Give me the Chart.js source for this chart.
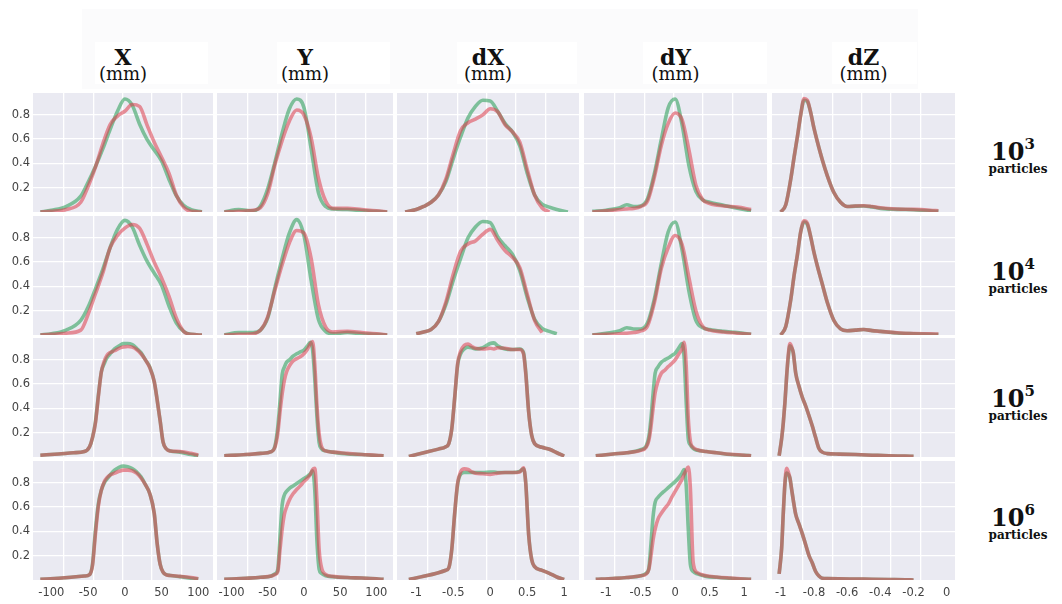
<!DOCTYPE html>
<html>
<head>
<meta charset="utf-8">
<script src="https://cdn.jsdelivr.net/npm/chart.js@4.4.1/dist/chart.umd.min.js"></script>
<style>
    body { margin: 0; background: #fff; }
    #figura { position: relative; width: 1062px; height: 604px; overflow: hidden; background: #fff; }
    #figura canvas { position: absolute; }
    .fundo { position: absolute; left: 82px; top: 9px; width: 836px; height: 80px; background: #fbfbfc; }
    .caixa { position: absolute; top: 42px; height: 42px; background: #fff; }
    .cab { position: absolute; width: 140px; text-align: center; font-family: 'DejaVu Serif', serif; color: #111; white-space: nowrap; }
    .cab.nome { top: 46px; font-size: 22px; line-height: 22px; font-weight: bold; }
    .cab.unid { top: 65px; font-size: 18px; line-height: 18px; }
    .rotulo { position: absolute; left: 978px; width: 80px; text-align: center; font-family: 'DejaVu Serif', serif; font-weight: bold; color: #111; white-space: nowrap; }
    .rotulo.pot { font-size: 24px; line-height: 24px; padding-right: 10px; box-sizing: border-box; }
    .rotulo.pot sup { font-size: 15px; line-height: 0; position: relative; top: -2px; }
    .rotulo.part { font-size: 12px; line-height: 12px; }
</style>
</head>
<body>
<div id="figura">
    <div class="fundo"></div>
</div>

<script>
// Cabeçalhos das colunas e das linhas
const colunas = ['X', 'Y', 'dX', 'dY', 'dZ'];
const potencias = ['3', '4', '5', '6'];

// Marcas dos eixos (rótulos)
const marcasX = [-100, -50, 0, 50, 100];
const marcasY = [-100, -50, 0, 50, 100];
const marcasDX = [-1, -0.5, 0, 0.5, 1];
const marcasDY = [-1, -0.5, 0, 0.5, 1];
const marcasDZ = [-1, -0.8, -0.6, -0.4, -0.2, 0];
const marcasDensidade = [0.2, 0.4, 0.6, 0.8];

// ---------- X (mm) ----------
const gradeX = [-115, -100, -80, -60, -50, -40, -30, -20, -10, 0, 10, 20, 30, 40, 50, 60, 70, 80, 90, 105];
const vermelhoX3 = [0, 0.005, 0.02, 0.08, 0.21, 0.37, 0.56, 0.72, 0.79, 0.83, 0.885, 0.87, 0.72, 0.575, 0.45, 0.32, 0.14, 0.04, 0.005, 0];
const verdeX3 = [0, 0.015, 0.045, 0.13, 0.245, 0.375, 0.52, 0.68, 0.83, 0.93, 0.88, 0.725, 0.60, 0.51, 0.42, 0.27, 0.135, 0.055, 0.02, 0];
const vermelhoX4 = [0, 0.005, 0.015, 0.04, 0.17, 0.34, 0.51, 0.72, 0.82, 0.88, 0.91, 0.88, 0.75, 0.60, 0.47, 0.32, 0.14, 0.03, 0.005, 0];
const verdeX4 = [0, 0.01, 0.04, 0.12, 0.23, 0.38, 0.54, 0.72, 0.87, 0.944, 0.89, 0.74, 0.61, 0.51, 0.41, 0.24, 0.10, 0.03, 0.005, 0];

const gradeXf = [-115, -90, -70, -55, -48, -44, -40, -36, -32, -28, -24, -20, -14, -8, -2, 4, 10, 16, 22, 28, 34, 40, 44, 48, 52, 56, 62, 75, 90, 100];
const vermelhoX5 = [0.015, 0.025, 0.035, 0.045, 0.085, 0.16, 0.28, 0.50, 0.70, 0.79, 0.84, 0.86, 0.875, 0.895, 0.905, 0.91, 0.905, 0.885, 0.85, 0.80, 0.735, 0.62, 0.47, 0.30, 0.125, 0.07, 0.05, 0.045, 0.03, 0.015];
const verdeX5 = [0.015, 0.025, 0.035, 0.045, 0.085, 0.16, 0.29, 0.51, 0.70, 0.77, 0.82, 0.85, 0.89, 0.915, 0.934, 0.935, 0.925, 0.895, 0.86, 0.80, 0.74, 0.62, 0.47, 0.30, 0.125, 0.07, 0.05, 0.04, 0.02, 0.01];
const vermelhoX6 = [0.005, 0.015, 0.025, 0.033, 0.045, 0.12, 0.38, 0.61, 0.74, 0.81, 0.845, 0.865, 0.88, 0.895, 0.905, 0.905, 0.90, 0.88, 0.84, 0.785, 0.71, 0.55, 0.30, 0.13, 0.065, 0.045, 0.037, 0.03, 0.02, 0.01];
const verdeX6 = [0.005, 0.015, 0.025, 0.033, 0.045, 0.13, 0.41, 0.63, 0.74, 0.80, 0.835, 0.865, 0.905, 0.928, 0.938, 0.932, 0.918, 0.89, 0.85, 0.785, 0.71, 0.55, 0.30, 0.13, 0.065, 0.045, 0.037, 0.028, 0.015, 0.008];

// ---------- Y (mm) ----------
const gradeY = [-110, -90, -70, -60, -50, -40, -30, -20, -10, 0, 10, 20, 30, 40, 60, 80, 100, 115];
const vermelhoY3 = [0, 0.005, 0.015, 0.035, 0.15, 0.39, 0.59, 0.75, 0.84, 0.80, 0.61, 0.28, 0.09, 0.03, 0.03, 0.02, 0.01, 0];
const verdeY3 = [0, 0.02, 0.01, 0.05, 0.19, 0.41, 0.65, 0.85, 0.93, 0.86, 0.52, 0.16, 0.045, 0.025, 0.02, 0.012, 0.005, 0];
const vermelhoY4 = [0, 0.005, 0.01, 0.04, 0.15, 0.37, 0.58, 0.76, 0.86, 0.84, 0.63, 0.25, 0.065, 0.025, 0.03, 0.02, 0.01, 0];
const verdeY4 = [0, 0.02, 0.02, 0.04, 0.14, 0.39, 0.63, 0.84, 0.95, 0.82, 0.45, 0.13, 0.03, 0.01, 0.02, 0.01, 0.005, 0];

const gradeYf = [-110, -80, -60, -45, -40, -36, -33, -30, -27, -24, -20, -15, -10, -5, 0, 5, 9, 12, 15, 18, 21, 24, 30, 40, 60, 80, 100, 110];
const vermelhoY5 = [0.01, 0.02, 0.03, 0.045, 0.08, 0.20, 0.37, 0.52, 0.63, 0.70, 0.75, 0.79, 0.81, 0.825, 0.85, 0.89, 0.935, 0.95, 0.76, 0.42, 0.19, 0.09, 0.05, 0.04, 0.03, 0.02, 0.015, 0.01];
const verdeY5 = [0.01, 0.02, 0.03, 0.045, 0.09, 0.25, 0.46, 0.68, 0.74, 0.78, 0.80, 0.83, 0.85, 0.865, 0.88, 0.915, 0.945, 0.88, 0.646, 0.33, 0.12, 0.07, 0.05, 0.04, 0.025, 0.02, 0.012, 0.01];
const vermelhoY6 = [0.005, 0.014, 0.022, 0.033, 0.045, 0.07, 0.25, 0.42, 0.54, 0.60, 0.66, 0.71, 0.745, 0.775, 0.81, 0.84, 0.87, 0.91, 0.92, 0.65, 0.25, 0.11, 0.045, 0.03, 0.02, 0.016, 0.01, 0.005];
const verdeY6 = [0.005, 0.014, 0.022, 0.033, 0.05, 0.09, 0.36, 0.62, 0.70, 0.73, 0.755, 0.775, 0.795, 0.815, 0.835, 0.855, 0.875, 0.90, 0.74, 0.32, 0.09, 0.055, 0.035, 0.027, 0.02, 0.016, 0.01, 0.005];

// ---------- dX (mm) ----------
const gradeDX = [-1.15, -1.0, -0.9, -0.8, -0.7, -0.6, -0.5, -0.4, -0.3, -0.2, -0.1, 0, 0.1, 0.2, 0.3, 0.4, 0.5, 0.6, 0.7, 0.8, 0.9, 1.05];
const vermelhoDX3 = [0, 0.02, 0.046, 0.08, 0.14, 0.27, 0.48, 0.67, 0.735, 0.765, 0.80, 0.85, 0.825, 0.72, 0.66, 0.575, 0.35, 0.14, 0.035, 0, null, null];
const verdeDX3 = [0, 0.02, 0.046, 0.08, 0.14, 0.25, 0.44, 0.62, 0.775, 0.87, 0.92, 0.915, 0.83, 0.73, 0.66, 0.545, 0.32, 0.14, 0.065, 0.04, 0.02, 0];
const vermelhoDX4 = [null, 0.01, 0.025, 0.045, 0.11, 0.27, 0.50, 0.69, 0.75, 0.775, 0.83, 0.87, 0.78, 0.695, 0.64, 0.555, 0.335, 0.12, 0.02, null, null, null];
const verdeDX4 = [null, 0.01, 0.025, 0.045, 0.11, 0.25, 0.45, 0.63, 0.80, 0.89, 0.935, 0.925, 0.81, 0.735, 0.665, 0.53, 0.31, 0.13, 0.055, 0.03, 0.01, null];

const gradeDXf = [-1.1, -0.9, -0.7, -0.6, -0.56, -0.52, -0.48, -0.44, -0.4, -0.35, -0.3, -0.25, -0.2, -0.1, 0, 0.05, 0.1, 0.2, 0.3, 0.4, 0.45, 0.48, 0.52, 0.56, 0.6, 0.7, 0.8, 0.9, 1.0];
const vermelhoDX5 = [0.005, 0.035, 0.065, 0.085, 0.11, 0.23, 0.49, 0.77, 0.87, 0.92, 0.93, 0.91, 0.895, 0.89, 0.895, 0.89, 0.90, 0.895, 0.885, 0.885, 0.85, 0.69, 0.37, 0.18, 0.11, 0.08, 0.064, 0.035, 0.008];
const verdeDX5 = [0.005, 0.035, 0.065, 0.085, 0.11, 0.23, 0.49, 0.76, 0.85, 0.89, 0.905, 0.90, 0.89, 0.90, 0.935, 0.94, 0.915, 0.89, 0.885, 0.89, 0.86, 0.70, 0.37, 0.18, 0.11, 0.08, 0.064, 0.035, 0.008];
const vermelhoDX6 = [0.005, 0.03, 0.06, 0.08, 0.10, 0.25, 0.55, 0.80, 0.89, 0.915, 0.91, 0.89, 0.88, 0.875, 0.87, 0.875, 0.88, 0.885, 0.885, 0.89, 0.925, 0.80, 0.37, 0.17, 0.11, 0.08, 0.055, 0.025, 0.005];
const verdeDX6 = [0.005, 0.03, 0.06, 0.08, 0.10, 0.25, 0.55, 0.79, 0.87, 0.885, 0.885, 0.885, 0.885, 0.885, 0.89, 0.89, 0.885, 0.885, 0.885, 0.895, 0.915, 0.80, 0.37, 0.17, 0.11, 0.08, 0.055, 0.025, 0.005];

// ---------- dY (mm) ----------
const gradeDY = [-1.2, -1.0, -0.8, -0.7, -0.6, -0.5, -0.4, -0.3, -0.2, -0.1, 0, 0.1, 0.2, 0.3, 0.4, 0.5, 0.7, 0.9, 1.1];
const vermelhoDY3 = [0, 0.01, 0.02, 0.025, 0.03, 0.045, 0.09, 0.29, 0.55, 0.73, 0.815, 0.76, 0.51, 0.22, 0.10, 0.07, 0.05, 0.04, 0.02];
const verdeDY3 = [0.005, 0.015, 0.035, 0.06, 0.045, 0.05, 0.11, 0.32, 0.60, 0.86, 0.93, 0.72, 0.38, 0.17, 0.10, 0.08, 0.055, 0.03, 0.01];
const vermelhoDY4 = [0, 0.005, 0.01, 0.015, 0.02, 0.033, 0.075, 0.27, 0.55, 0.72, 0.82, 0.745, 0.47, 0.20, 0.07, 0.04, 0.025, 0.015, 0.005];
const verdeDY4 = [0, 0.015, 0.035, 0.06, 0.05, 0.05, 0.10, 0.30, 0.59, 0.85, 0.93, 0.70, 0.36, 0.12, 0.06, 0.045, 0.03, 0.02, 0.005];

const gradeDYf = [-1.15, -0.9, -0.7, -0.5, -0.42, -0.38, -0.35, -0.32, -0.29, -0.25, -0.2, -0.15, -0.1, -0.05, 0, 0.05, 0.1, 0.13, 0.16, 0.19, 0.22, 0.26, 0.32, 0.45, 0.6, 0.8, 1.0, 1.1];
const vermelhoDY5 = [0.01, 0.025, 0.035, 0.055, 0.08, 0.14, 0.25, 0.40, 0.53, 0.62, 0.69, 0.715, 0.745, 0.77, 0.80, 0.845, 0.89, 0.945, 0.75, 0.32, 0.13, 0.08, 0.06, 0.045, 0.035, 0.022, 0.015, 0.01];
const verdeDY5 = [0.01, 0.025, 0.035, 0.06, 0.09, 0.17, 0.32, 0.52, 0.69, 0.74, 0.78, 0.80, 0.815, 0.835, 0.855, 0.895, 0.935, 0.82, 0.45, 0.15, 0.10, 0.07, 0.055, 0.045, 0.035, 0.02, 0.014, 0.01];
const vermelhoDY6 = [0.005, 0.012, 0.02, 0.035, 0.05, 0.09, 0.20, 0.33, 0.42, 0.50, 0.55, 0.59, 0.625, 0.68, 0.73, 0.78, 0.83, 0.87, 0.905, 0.93, 0.76, 0.15, 0.06, 0.035, 0.025, 0.016, 0.008, 0.005];
const verdeDY6 = [0.005, 0.012, 0.02, 0.035, 0.055, 0.10, 0.30, 0.52, 0.64, 0.68, 0.71, 0.735, 0.76, 0.785, 0.81, 0.84, 0.88, 0.91, 0.78, 0.42, 0.13, 0.07, 0.05, 0.03, 0.022, 0.014, 0.007, 0.005];

// ---------- dZ (mm) ----------
const gradeDZ = [-1.0, -0.97, -0.94, -0.92, -0.9, -0.88, -0.86, -0.84, -0.82, -0.8, -0.78, -0.75, -0.72, -0.68, -0.64, -0.6, -0.55, -0.5, -0.45, -0.4, -0.3, -0.2, -0.1, -0.05];
const vermelhoDZ3 = [0, 0.06, 0.27, 0.45, 0.62, 0.80, 0.935, 0.92, 0.82, 0.69, 0.58, 0.43, 0.30, 0.16, 0.08, 0.045, 0.05, 0.052, 0.045, 0.035, 0.025, 0.022, 0.015, 0.01];
const verdeDZ3 = [0, 0.06, 0.27, 0.45, 0.62, 0.80, 0.92, 0.91, 0.82, 0.69, 0.58, 0.43, 0.30, 0.16, 0.08, 0.045, 0.048, 0.05, 0.042, 0.03, 0.022, 0.018, 0.01, 0.005];
const vermelhoDZ4 = [0, 0.07, 0.29, 0.49, 0.66, 0.85, 0.94, 0.92, 0.81, 0.68, 0.57, 0.42, 0.27, 0.12, 0.05, 0.035, 0.04, 0.045, 0.036, 0.03, 0.018, 0.012, 0.01, 0.008];
const verdeDZ4 = [0, 0.07, 0.29, 0.49, 0.66, 0.85, 0.93, 0.91, 0.81, 0.68, 0.57, 0.42, 0.27, 0.12, 0.05, 0.035, 0.04, 0.045, 0.036, 0.03, 0.016, 0.01, 0.006, 0.004];

const gradeDZf = [-1.01, -0.995, -0.985, -0.975, -0.965, -0.955, -0.945, -0.935, -0.925, -0.91, -0.89, -0.87, -0.85, -0.83, -0.81, -0.79, -0.77, -0.75, -0.72, -0.65, -0.55, -0.45, -0.35, -0.25, -0.2];
const vermelhoDZ5 = [0.01, 0.15, 0.28, 0.45, 0.66, 0.84, 0.935, 0.91, 0.86, 0.69, 0.58, 0.49, 0.42, 0.34, 0.255, 0.16, 0.07, 0.04, 0.028, 0.024, 0.02, 0.015, 0.01, 0.007, 0.005];
const verdeDZ5 = [0.01, 0.15, 0.28, 0.45, 0.66, 0.82, 0.915, 0.90, 0.86, 0.69, 0.58, 0.49, 0.42, 0.34, 0.255, 0.16, 0.07, 0.04, 0.028, 0.024, 0.02, 0.015, 0.01, 0.007, 0.005];
const vermelhoDZ6 = [0.05, 0.26, 0.55, 0.80, 0.92, 0.89, 0.84, 0.75, 0.66, 0.54, 0.46, 0.38, 0.29, 0.20, 0.14, 0.07, 0.033, 0.015, 0.012, 0.01, 0.008, 0.006, 0.004, 0.002, 0];
const verdeDZ6 = [0.05, 0.26, 0.55, 0.79, 0.88, 0.87, 0.84, 0.75, 0.66, 0.54, 0.46, 0.38, 0.29, 0.20, 0.14, 0.07, 0.033, 0.015, 0.012, 0.01, 0.008, 0.006, 0.004, 0.002, 0];

// Tabela de painéis [linha][coluna]
const paineis = [
    [[gradeX, vermelhoX3, verdeX3], [gradeY, vermelhoY3, verdeY3], [gradeDX, vermelhoDX3, verdeDX3], [gradeDY, vermelhoDY3, verdeDY3], [gradeDZ, vermelhoDZ3, verdeDZ3]],
    [[gradeX, vermelhoX4, verdeX4], [gradeY, vermelhoY4, verdeY4], [gradeDX, vermelhoDX4, verdeDX4], [gradeDY, vermelhoDY4, verdeDY4], [gradeDZ, vermelhoDZ4, verdeDZ4]],
    [[gradeXf, vermelhoX5, verdeX5], [gradeYf, vermelhoY5, verdeY5], [gradeDXf, vermelhoDX5, verdeDX5], [gradeDYf, vermelhoDY5, verdeDY5], [gradeDZf, vermelhoDZ5, verdeDZ5]],
    [[gradeXf, vermelhoX6, verdeX6], [gradeYf, vermelhoY6, verdeY6], [gradeDXf, vermelhoDX6, verdeDX6], [gradeDYf, vermelhoDY6, verdeDY6], [gradeDZf, vermelhoDZ6, verdeDZ6]]
];

// Geometria da grade de painéis
const esquerdaCol = [33, 217, 397, 584, 772];
const larguraCol = [180, 176, 182, 183, 183];
const topoLinha = [93, 216, 338, 461];
const alturaPainel = 119;
const faixasX = [[-125, 120], [-120, 123], [-1.26, 1.2], [-1.32, 1.33], [-1.053, 0.05]];
const marcasCol = [marcasX, marcasY, marcasDX, marcasDY, marcasDZ];
const caixasCab = [[95, 113], [277, 113], [457, 120], [643, 124], [832, 85]];
const baseRotulos = [160, 280, 407, 526];

const figura = document.getElementById('figura');

// Fundo cinza-azulado de cada painel (estilo darkgrid)
const fundoPainel = {
    id: 'fundoPainel',
    beforeDraw(chart) {
        const a = chart.chartArea;
        const c = chart.ctx;
        c.save();
        c.fillStyle = '#eaeaf2';
        c.fillRect(a.left, a.top, a.right - a.left, a.bottom - a.top);
        c.restore();
    }
};

const fonteMarcas = { family: 'DejaVu Sans', size: 11.5 };

function criarPainel(linha, coluna) {
    const [grade, vermelho, verde] = paineis[linha][coluna];
    const extraEsq = coluna === 0 ? 33 : 0;
    const extraBaixo = linha === 3 ? 24 : 0;
    const largura = larguraCol[coluna];

    const canvas = document.createElement('canvas');
    canvas.width = largura + extraEsq;
    canvas.height = alturaPainel + extraBaixo;
    canvas.style.left = (esquerdaCol[coluna] - extraEsq) + 'px';
    canvas.style.top = topoLinha[linha] + 'px';
    figura.appendChild(canvas);

    // eixo auxiliar só para as linhas verticais da grade (passo ~29 px)
    const passoGrade = 29.3;
    const minGrade = 1 - 31 / passoGrade;

    new Chart(canvas.getContext('2d'), {
        type: 'line',
        data: {
            datasets: [
                {
                    data: grade.map((x, i) => ({ x: x, y: vermelho[i] })),
                    borderColor: 'rgba(220, 60, 75, 0.55)',
                    borderWidth: 3.6,
                    pointRadius: 0,
                    cubicInterpolationMode: 'monotone',
                    xAxisID: 'x'
                },
                {
                    data: grade.map((x, i) => ({ x: x, y: verde[i] })),
                    borderColor: 'rgba(46, 160, 90, 0.58)',
                    borderWidth: 3.6,
                    pointRadius: 0,
                    cubicInterpolationMode: 'monotone',
                    xAxisID: 'x'
                }
            ]
        },
        options: {
            responsive: false,
            animation: false,
            events: [],
            layout: { padding: 0, autoPadding: false },
            plugins: { legend: { display: false }, tooltip: { enabled: false } },
            scales: {
                x: {
                    type: 'linear',
                    display: linha === 3,
                    position: 'bottom',
                    min: faixasX[coluna][0],
                    max: faixasX[coluna][1],
                    afterBuildTicks: s => { s.ticks = marcasCol[coluna].map(v => ({ value: v })); },
                    afterFit: s => { s.height = extraBaixo; s.paddingLeft = 0; s.paddingRight = 0; },
                    grid: { display: false, drawTicks: false },
                    border: { display: false },
                    ticks: { autoSkip: false, maxRotation: 0, padding: 6, color: '#444', font: fonteMarcas, callback: v => String(v) }
                },
                xg: {
                    type: 'linear',
                    position: 'bottom',
                    min: minGrade,
                    max: minGrade + largura / passoGrade,
                    afterBuildTicks: s => { s.ticks = [1, 2, 3, 4, 5].map(v => ({ value: v })); },
                    afterFit: s => { s.height = 0; s.paddingLeft = 0; s.paddingRight = 0; },
                    grid: { color: '#ffffff', lineWidth: 1.3, drawTicks: false },
                    border: { display: false },
                    ticks: { display: false }
                },
                y: {
                    type: 'linear',
                    min: 0,
                    max: 0.98,
                    afterBuildTicks: s => { s.ticks = marcasDensidade.map(v => ({ value: v })); },
                    afterFit: s => { s.width = extraEsq; s.paddingTop = 0; s.paddingBottom = 0; },
                    grid: { color: '#ffffff', lineWidth: 1.3, drawTicks: false },
                    border: { display: false },
                    ticks: { display: coluna === 0, padding: 3, color: '#444', font: fonteMarcas, callback: v => String(v) }
                }
            }
        },
        plugins: [fundoPainel]
    });
}

// Caixas brancas e títulos das colunas
colunas.forEach((nome, c) => {
    const caixa = document.createElement('div');
    caixa.className = 'caixa';
    caixa.style.left = caixasCab[c][0] + 'px';
    caixa.style.width = caixasCab[c][1] + 'px';
    figura.appendChild(caixa);

    const centro = esquerdaCol[c] + larguraCol[c] / 2;
    const titulo = document.createElement('div');
    titulo.className = 'cab nome';
    titulo.style.left = (centro - 70) + 'px';
    titulo.textContent = nome;
    figura.appendChild(titulo);

    const unidade = document.createElement('div');
    unidade.className = 'cab unid';
    unidade.style.left = (centro - 70) + 'px';
    unidade.textContent = '(mm)';
    figura.appendChild(unidade);
});

// Rótulos das linhas: 10^n particles
potencias.forEach((p, r) => {
    const pot = document.createElement('div');
    pot.className = 'rotulo pot';
    pot.style.top = (baseRotulos[r] - 20) + 'px';
    pot.innerHTML = `10<sup>${p}</sup>`;
    figura.appendChild(pot);

    const part = document.createElement('div');
    part.className = 'rotulo part';
    part.style.top = (baseRotulos[r] + 3) + 'px';
    part.textContent = 'particles';
    figura.appendChild(part);
});

for (let r = 0; r < 4; r++) {
    for (let c = 0; c < 5; c++) {
        criarPainel(r, c);
    }
}
</script>
</body>
</html>
